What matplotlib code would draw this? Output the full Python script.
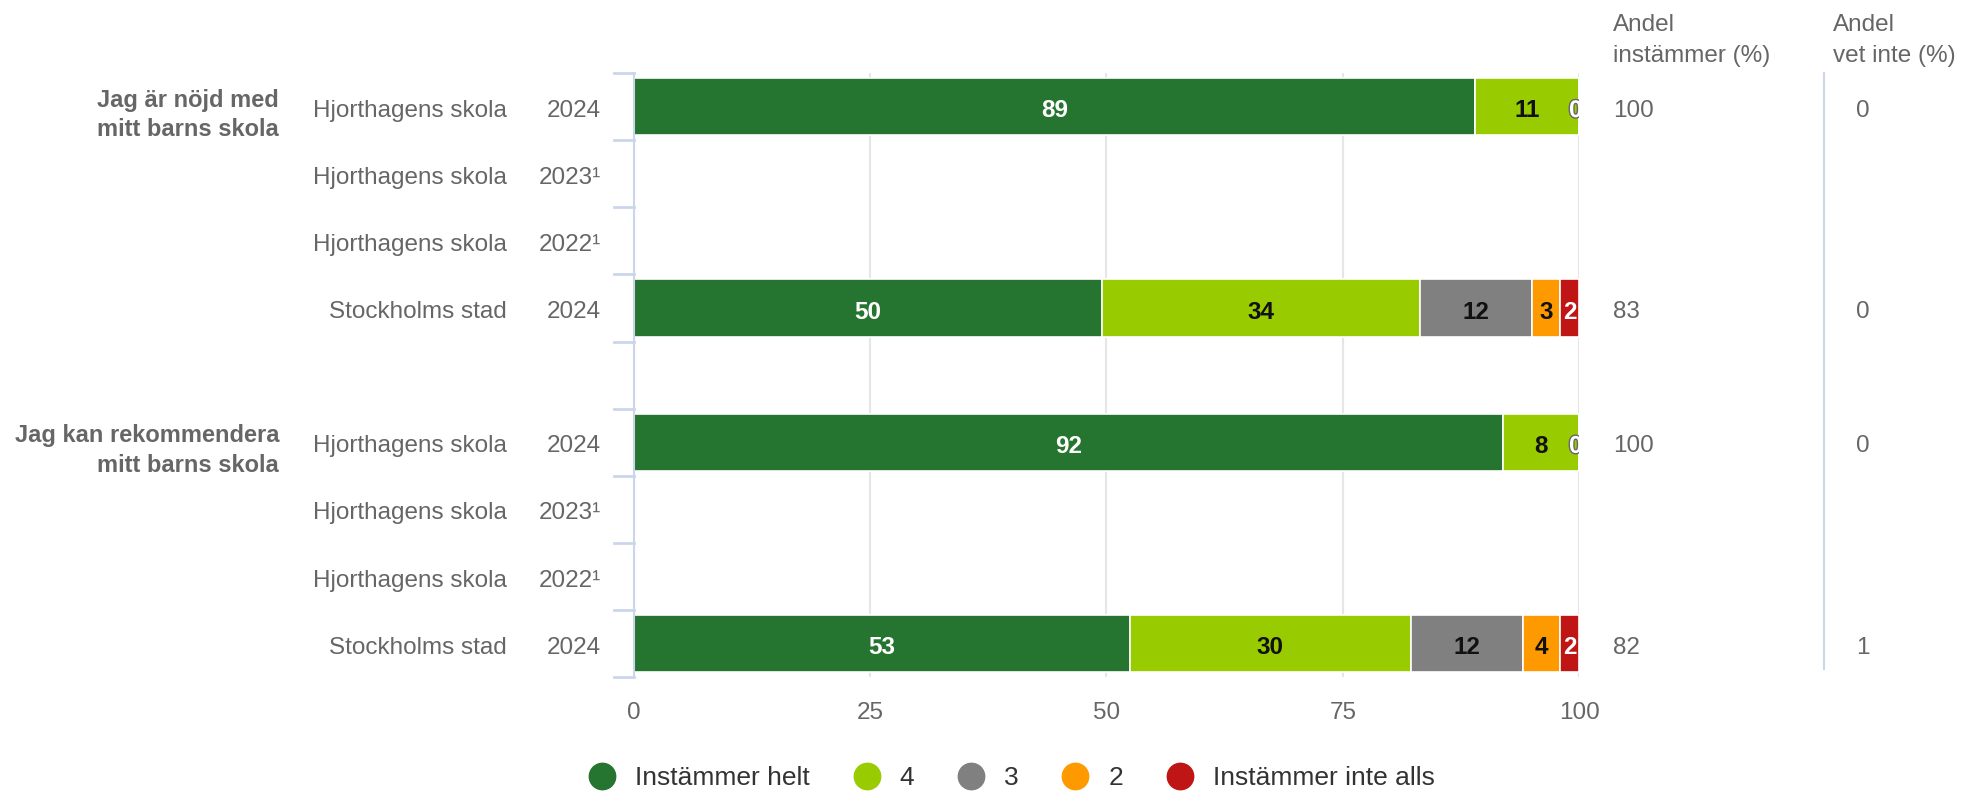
import matplotlib
matplotlib.use("Agg")
import matplotlib.pyplot as plt
import matplotlib.patheffects as pe
from matplotlib.transforms import blended_transform_factory

plt.rcParams['font.family'] = ['Liberation Sans', 'DejaVu Sans']

# data
questions = ["Jag är nöjd med\nmitt barns skola", "Jag kan rekommendera\nmitt barns skola"]
units = ["Hjorthagens skola", "Hjorthagens skola", "Hjorthagens skola", "Stockholms stad"] * 2
years = ["2024", "2023¹", "2022¹", "2024"] * 2
series_names = ["Instämmer helt", "4", "3", "2", "Instämmer inte alls"]
helt = [89, None, None, 50, 92, None, None, 53]
fyra = [11, None, None, 34, 8, None, None, 30]
tre = [0, None, None, 12, 0, None, None, 12]
tva = [0, None, None, 3, 0, None, None, 4]
inte_alls = [0, None, None, 2, 0, None, None, 2]
andel_instammer = [100, None, None, 83, 100, None, None, 82]
andel_vet_inte = [0, None, None, 0, 0, None, None, 1]

colors = ["#25742f", "#99cc00", "#808080", "#ff9900", "#bf1515"]
text_colors = ["white", "#111111", "#111111", "#111111", "white"]
grey = "#666666"
axis_blue = "#ccd6eb"

# slot positions (empty slot 4 separates the two questions)
slots = [0, 1, 2, 3, 5, 6, 7, 8]
dy = 0.06  # small downward nudge so text sits on the row centre visually

fig = plt.figure(figsize=(19.75, 7.94), dpi=100)
ax = fig.add_axes([0.321, 0.147, 0.4785, 0.761])

values = [helt, fyra, tre, tva, inte_alls]
for i in range(len(slots)):
    if helt[i] is None:
        continue
    total = sum(v[i] for v in values)
    left = 0
    zero_drawn = False
    for s in range(len(values)):
        v = values[s][i]
        w = v / total * 100
        ax.barh(slots[i], w, left=left, height=0.85, color=colors[s],
                edgecolor="white", linewidth=1.2, zorder=3)
        if v > 0:
            ax.text(left + w / 2, slots[i] + dy, str(v), ha="center", va="center",
                    fontsize=17.5, fontweight="bold", color=text_colors[s], zorder=4)
        elif not zero_drawn:
            ax.text(left - 0.35, slots[i] + dy, "0", ha="center", va="center",
                    fontsize=17.5, fontweight="bold", color="white", zorder=4,
                    clip_on=True,
                    path_effects=[pe.withStroke(linewidth=2, foreground="#666666")])
            zero_drawn = True
        left += w

ax.set_xlim(0, 100)
ax.set_ylim(8.5, -0.5)
ax.set_xticks([0, 25, 50, 75, 100])
ax.set_yticks([])
ax.tick_params(axis="x", length=0, pad=18, labelsize=17.5, labelcolor=grey)
ax.grid(axis="x", color="#e6e6e6", linewidth=1.5, zorder=0)
for side in ["top", "right", "bottom"]:
    ax.spines[side].set_visible(False)
ax.spines["left"].set_color(axis_blue)
ax.spines["left"].set_linewidth(1.5)
ax.spines["left"].set_zorder(5)

# tick marks on the category axis at slot boundaries
for b in range(10):
    ax.plot([-0.021, 0], [b - 0.5, b - 0.5], color=axis_blue, linewidth=2,
            transform=blended_transform_factory(ax.transAxes, ax.transData),
            clip_on=False)

tr = blended_transform_factory(fig.transFigure, ax.transData)
for i in range(len(slots)):
    ax.text(0.2567, slots[i] + dy, units[i], transform=tr, ha="right", va="center",
            fontsize=17.5, color=grey)
    ax.text(0.3043, slots[i] + dy, years[i], transform=tr, ha="right", va="center",
            fontsize=17.5, color=grey)
    if andel_instammer[i] is not None:
        ax.text(0.8167, slots[i] + dy, str(andel_instammer[i]), transform=tr,
                ha="left", va="center", fontsize=17.5, color=grey)
        ax.text(0.943, slots[i] + dy, str(andel_vet_inte[i]), transform=tr,
                ha="center", va="center", fontsize=17.5, color=grey)

for q, slot in zip(questions, [0, 5]):
    ax.text(0.1413, slot + 0.12, q, transform=tr, ha="right", va="center",
            fontsize=17, fontweight="bold", color=grey, linespacing=1.35,
            multialignment="right")

# column headers
fig.text(0.8167, 0.982, "Andel\ninstämmer (%)", ha="left", va="top",
         fontsize=17.5, color=grey, linespacing=1.5)
fig.text(0.928, 0.982, "Andel\nvet inte (%)", ha="left", va="top",
         fontsize=17.5, color=grey, linespacing=1.5)

# divider before the last column
fig.add_artist(plt.Line2D([0.9237, 0.9237], [0.157, 0.908], color=axis_blue,
                          linewidth=1.5, transform=fig.transFigure))

# legend
handles = [plt.Line2D([], [], marker="o", linestyle="", markersize=19,
                      markerfacecolor=c, markeredgecolor=c) for c in colors]
leg = fig.legend(handles, series_names, loc="center", ncol=5, frameon=False,
                 bbox_to_anchor=(0.509, 0.02), fontsize=19, handletextpad=0.25,
                 columnspacing=1.15)
for t in leg.get_texts():
    t.set_color("#333333")

plt.savefig("out.png", dpi=100)
